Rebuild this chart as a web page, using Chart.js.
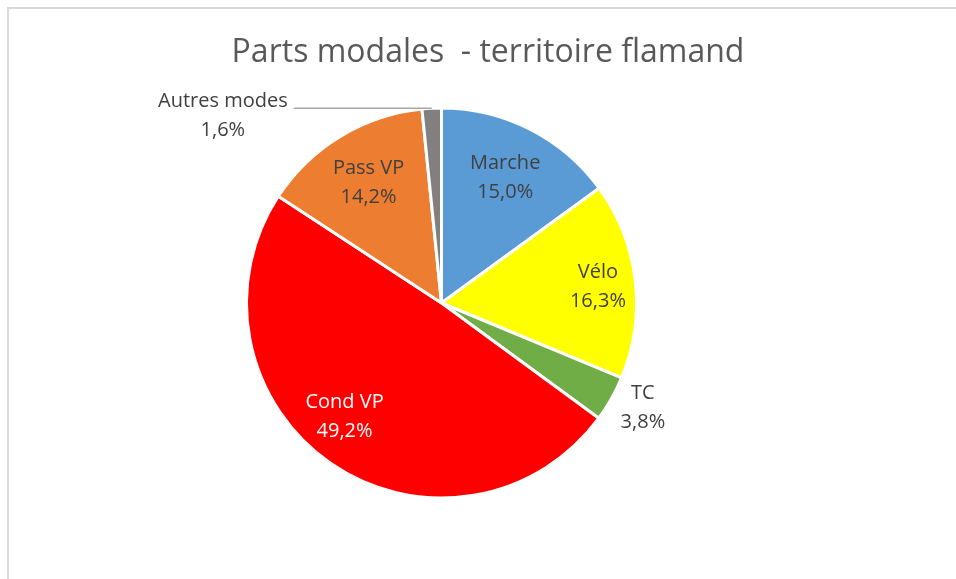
<!DOCTYPE html>
<html lang="fr">
<head>
<meta charset="utf-8">
<title>Parts modales - territoire flamand</title>
<script src="https://cdn.jsdelivr.net/npm/chart.js@4.4.1/dist/chart.umd.min.js"></script>
<style>
  html, body { margin: 0; padding: 0; background: #fff; overflow: hidden; }
  #cadre {
    position: absolute; left: 7px; top: 7px; width: 1000px; height: 600px;
    border-top: 2px solid #d9d9d9; border-left: 2px solid #d9d9d9;
  }
  #zone { position: absolute; left: 0; top: 0; width: 956px; height: 579px; }
</style>
</head>
<body>
<div id="cadre"></div>
<div id="zone"><canvas id="graphique" width="956" height="579"></canvas></div>
<script>
// Parts modales - territoire flamand
const modes = ['Marche', 'Vélo', 'TC', 'Cond VP', 'Pass VP', 'Autres modes'];
const parts = [15.0, 16.3, 3.8, 49.2, 14.2, 1.6];
const couleurs = ['#5b9bd5', '#ffff00', '#70ad47', '#ff0000', '#ed7d31', '#808080'];

// où placer chaque étiquette : dans la part, à l'extérieur, ou avec un trait
const placement = ['dedans', 'dedans', 'dehors', 'dedans', 'dedans', 'trait'];
const couleurTexte = ['#404040', '#404040', '#404040', '#ffffff', '#404040', '#404040'];
// petits décalages (px) comme le "meilleur ajustement" d'Excel
const decalage = [[0, 0], [17, 0], [6, -5], [-17, -2], [0, 0], [0, 0]];

const titre = 'Parts modales  - territoire flamand';
const police = '"Open Sans", "Liberation Sans", sans-serif';

function formater(v) {
    return v.toFixed(1).replace('.', ',') + '%';
}

const etiquettes = {
    id: 'etiquettes',
    afterDatasetsDraw(chart) {
        const ctx = chart.ctx;
        const meta = chart.getDatasetMeta(0);
        const hauteurLigne = 29;
        ctx.save();
        ctx.font = '20px ' + police;
        ctx.textBaseline = 'middle';
        ctx.textAlign = 'center';
        meta.data.forEach((arc, i) => {
            const { x, y, startAngle, endAngle, outerRadius } = arc.getProps(
                ['x', 'y', 'startAngle', 'endAngle', 'outerRadius'], true);
            const milieu = (startAngle + endAngle) / 2;
            const lignes = [modes[i], formater(parts[i])];
            let cx, cy;
            if (placement[i] === 'trait') {
                const px = x + Math.cos(milieu) * outerRadius;
                const py = y + Math.sin(milieu) * outerRadius;
                const finTrait = px - 138;
                ctx.strokeStyle = '#a6a6a6';
                ctx.lineWidth = 1.5;
                ctx.beginPath();
                ctx.moveTo(finTrait, py);
                ctx.lineTo(px, py);
                ctx.stroke();
                const largeur = Math.max(...lignes.map(l => ctx.measureText(l).width));
                cx = finTrait - 6 - largeur / 2;
                cy = py + 8;
            } else {
                const facteur = placement[i] === 'dehors' ? 1.15 : 0.72;
                cx = x + Math.cos(milieu) * outerRadius * facteur;
                cy = y + Math.sin(milieu) * outerRadius * facteur;
            }
            cx += decalage[i][0];
            cy += decalage[i][1];
            ctx.fillStyle = couleurTexte[i];
            lignes.forEach((l, k) => {
                ctx.fillText(l, cx, cy + (k - 0.5) * hauteurLigne);
            });
        });
        ctx.restore();
    }
};

const titrePlugin = {
    id: 'titrePlugin',
    afterDraw(chart) {
        const ctx = chart.ctx;
        ctx.save();
        ctx.font = '32px ' + police;
        ctx.fillStyle = '#595959';
        ctx.textAlign = 'center';
        ctx.textBaseline = 'middle';
        ctx.fillText(titre, 488, 53);
        ctx.restore();
    }
};

new Chart(document.getElementById('graphique'), {
    type: 'pie',
    data: {
        labels: modes,
        datasets: [{
            data: parts,
            backgroundColor: couleurs,
            borderColor: '#ffffff',
            borderWidth: 3
        }]
    },
    options: {
        responsive: false,
        animation: false,
        layout: {
            padding: { left: 245, right: 318, top: 106, bottom: 79 }
        },
        plugins: {
            legend: { display: false },
            title: { display: false },
            tooltip: { enabled: false }
        }
    },
    plugins: [etiquettes, titrePlugin]
});
</script>
</body>
</html>
